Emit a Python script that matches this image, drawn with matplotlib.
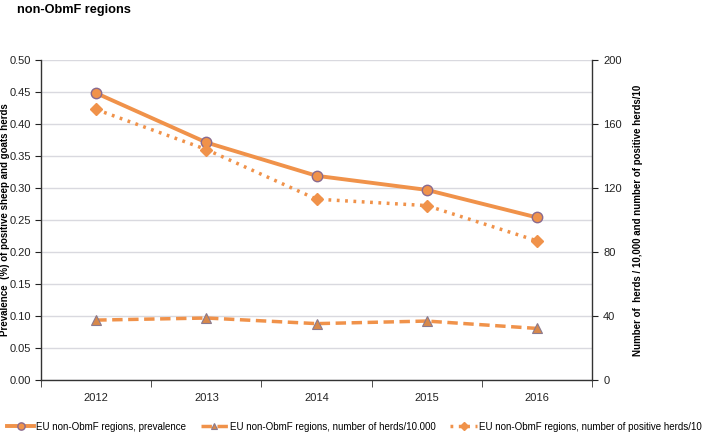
import matplotlib
matplotlib.use("Agg")
import matplotlib.pyplot as plt
import numpy as np
from matplotlib.ticker import FixedLocator
from matplotlib import font_manager

years = ["2012", "2013", "2014", "2015", "2016"]
prevalence = [0.448, 0.371, 0.319, 0.297, 0.254]
herds_10000 = [37.5, 38.8, 35.3, 36.9, 32.3]
positive_herds_10 = [169, 144, 113, 109, 87]

names = {f.name for f in font_manager.fontManager.ttflist}
narrow = "Liberation Sans Narrow" if "Liberation Sans Narrow" in names else "Liberation Sans"
plt.rcParams["font.family"] = ["Liberation Sans", "DejaVu Sans"]

orange = "#F0924A"
fig = plt.figure(figsize=(7.09, 4.40), dpi=100)
ax = fig.add_axes([0.058, 0.136, 0.777, 0.728])
ax2 = ax.twinx()

x = np.arange(len(years))
l1, = ax.plot(x, prevalence, color=orange, lw=2.8, marker="o", ms=7.5,
              mfc=orange, mec="#8A6A8E", mew=1.0, zorder=5)
l2, = ax2.plot(x, herds_10000, color=orange, lw=2.5, ls=(0, (3, 1.6)), marker="^", ms=7,
               mfc="#D8884A", mec="#8A7A8E", mew=0.8)
l3, = ax2.plot(x, positive_herds_10, color=orange, lw=2.5, ls=(0, (0.8, 1.6)), marker="D", ms=6,
               mfc=orange, mec=orange)

ax.set_xlim(-0.5, 4.5)
ax.set_ylim(0, 0.5)
ax2.set_ylim(0, 200)
yt = np.arange(0, 0.501, 0.05)
ax.set_yticks(yt)
ax.set_yticklabels([f"{v:.2f}" for v in yt])
ax2.set_yticks(np.arange(0, 201, 40))
ax.set_xticks(x)
ax.set_xticklabels(years)
ax.xaxis.set_minor_locator(FixedLocator(np.arange(-0.5, 4.6, 1)))
ax.tick_params(axis="x", which="major", length=0, pad=9, labelsize=8, colors="#222222")
ax.tick_params(axis="x", which="minor", length=5, direction="out", color="#333333")
ax.tick_params(axis="y", length=4, direction="out", labelsize=8, colors="#222222", pad=3)
ax2.tick_params(axis="y", length=4, direction="out", labelsize=8, colors="#222222", pad=4)
ax.grid(axis="y", color="#D9D9DF", lw=1)
ax.set_axisbelow(True)
for a in (ax, ax2):
    a.spines["top"].set_visible(False)
    for s in ("left", "right", "bottom"):
        a.spines[s].set_color("#333333")
        a.spines[s].set_linewidth(1)
ax.spines["right"].set_visible(False)
ax2.spines["left"].set_visible(False)
ax2.spines["bottom"].set_visible(False)

ax.set_ylabel("Prevalence  (%) of positive sheep and goats herds", fontsize=7,
              fontweight="bold")
ax.yaxis.set_label_coords(-0.056, 0.5)
ax2.set_ylabel("Number of  herds / 10,000 and number of positive herds/10", fontsize=7,
               fontweight="bold")
ax2.yaxis.set_label_coords(1.075, 0.5)

fig.text(0.024, 0.978, "non-ObmF regions", fontsize=9.2, fontweight="bold", va="center")

fig.legend([l1, l2, l3],
           ["EU non-ObmF regions, prevalence",
            "EU non-ObmF regions, number of herds/10.000",
            "EU non-ObmF regions, number of positive herds/10"],
           loc="center", bbox_to_anchor=(0.5, 0.03), ncol=3, frameon=False,
           prop={"family": narrow, "size": 7}, markerscale=0.7,
           handlelength=2.8, handletextpad=0.2, columnspacing=1.5, borderaxespad=0)

fig.savefig("out.png", dpi=100)
